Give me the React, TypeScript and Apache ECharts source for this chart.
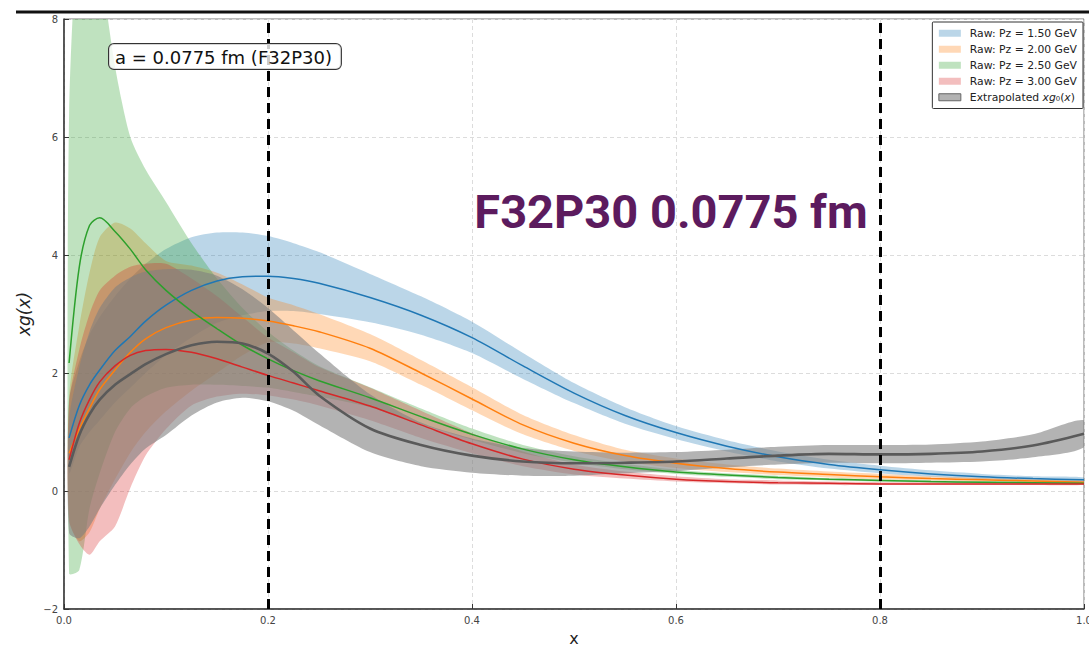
import React, { useEffect, useRef } from "react";
import * as echarts from "echarts";

// ---------- data ----------
const X = [0.005, 0.015, 0.025, 0.035, 0.05, 0.065, 0.08, 0.1, 0.125, 0.15, 0.175, 0.2, 0.225, 0.25, 0.3, 0.35, 0.4, 0.45, 0.5, 0.55, 0.6, 0.65, 0.7, 0.75, 0.8, 0.85, 0.9, 0.95, 1.0];

const BLUE_MID = [0.9, 1.45, 1.8, 2.05, 2.38, 2.62, 2.88, 3.15, 3.4, 3.56, 3.63, 3.64, 3.6, 3.52, 3.28, 2.98, 2.6, 2.12, 1.66, 1.28, 0.99, 0.76, 0.58, 0.45, 0.36, 0.29, 0.24, 0.21, 0.19];
const BLUE_HI = [1.55, 2.2, 2.65, 2.95, 3.3, 3.6, 3.85, 4.1, 4.3, 4.38, 4.38, 4.32, 4.2, 4.05, 3.68, 3.3, 2.87, 2.34, 1.83, 1.42, 1.1, 0.86, 0.67, 0.53, 0.43, 0.35, 0.29, 0.25, 0.23];
const BLUE_LO = [0.3, 0.75, 1.0, 1.2, 1.5, 1.75, 2.0, 2.3, 2.6, 2.85, 2.98, 3.05, 3.05, 3.0, 2.86, 2.65, 2.34, 1.9, 1.49, 1.14, 0.88, 0.67, 0.5, 0.38, 0.3, 0.24, 0.2, 0.17, 0.15];

const ORANGE_MID = [0.64, 1.05, 1.4, 1.72, 2.05, 2.35, 2.58, 2.77, 2.9, 2.94, 2.93, 2.88, 2.8, 2.7, 2.42, 2.0, 1.56, 1.12, 0.81, 0.6, 0.47, 0.38, 0.32, 0.28, 0.24, 0.21, 0.19, 0.17, 0.15];
const ORANGE_HI = [1.6, 2.8, 3.7, 4.3, 4.55, 4.45, 4.2, 3.9, 3.82, 3.7, 3.5, 3.28, 3.15, 3.0, 2.66, 2.22, 1.76, 1.29, 0.95, 0.7, 0.55, 0.45, 0.38, 0.33, 0.29, 0.25, 0.22, 0.2, 0.18];
const ORANGE_LO = [-0.5, -0.85, -0.7, -0.3, 0.2, 0.65, 1.0, 1.35, 1.7, 2.0, 2.3, 2.52, 2.5, 2.42, 2.2, 1.8, 1.37, 0.96, 0.68, 0.5, 0.39, 0.32, 0.27, 0.23, 0.2, 0.18, 0.16, 0.15, 0.13];

const GREEN_MID = [2.17, 3.8, 4.5, 4.63, 4.4, 4.1, 3.75, 3.4, 3.05, 2.75, 2.47, 2.24, 2.04, 1.87, 1.58, 1.26, 0.96, 0.71, 0.53, 0.41, 0.32, 0.27, 0.23, 0.2, 0.18, 0.16, 0.15, 0.14, 0.13];
const GREEN_HI = [6.4, 9.8, 10.2, 9.0, 7.2, 6.0, 5.45, 4.9, 4.2, 3.6, 3.1, 2.7, 2.38, 2.12, 1.76, 1.4, 1.06, 0.78, 0.59, 0.46, 0.36, 0.3, 0.26, 0.22, 0.2, 0.18, 0.17, 0.16, 0.15];
const GREEN_LO = [-1.4, -1.34, -0.3, 0.3, 1.0, 1.4, 1.6, 1.75, 1.8, 1.8, 1.78, 1.75, 1.68, 1.6, 1.42, 1.13, 0.87, 0.64, 0.48, 0.37, 0.29, 0.24, 0.2, 0.18, 0.16, 0.14, 0.13, 0.12, 0.11];

const RED_MID = [0.53, 1.15, 1.55, 1.85, 2.12, 2.3, 2.38, 2.4, 2.35, 2.24, 2.1, 1.96, 1.83, 1.7, 1.44, 1.12, 0.8, 0.54, 0.37, 0.27, 0.2, 0.16, 0.14, 0.13, 0.12, 0.12, 0.12, 0.12, 0.12];
const RED_HI = [1.5, 2.4, 3.0, 3.4, 3.65, 3.8, 3.85, 3.85, 3.6, 3.3, 2.95, 2.6, 2.35, 2.1, 1.75, 1.36, 0.98, 0.67, 0.45, 0.33, 0.25, 0.2, 0.18, 0.16, 0.15, 0.15, 0.15, 0.15, 0.14];
const RED_LO = [-0.5, -0.9, -1.08, -0.85, -0.6, 0.05, 0.6, 1.05, 1.45, 1.6, 1.65, 1.62, 1.55, 1.45, 1.2, 0.9, 0.64, 0.42, 0.28, 0.21, 0.16, 0.13, 0.11, 0.1, 0.1, 0.1, 0.1, 0.1, 0.1];

const GRAY_MID = [0.41, 0.95, 1.3, 1.55, 1.8, 1.98, 2.15, 2.32, 2.47, 2.53, 2.5, 2.33, 2.02, 1.62, 1.06, 0.78, 0.6, 0.5, 0.47, 0.48, 0.5, 0.55, 0.6, 0.63, 0.62, 0.63, 0.67, 0.77, 0.97];
const GRAY_HI = [1.2, 2.1, 2.7, 3.1, 3.45, 3.62, 3.72, 3.76, 3.75, 3.65, 3.42, 3.1, 2.72, 2.34, 1.64, 1.16, 0.89, 0.73, 0.67, 0.65, 0.66, 0.7, 0.75, 0.78, 0.78, 0.79, 0.84, 0.96, 1.2];
const GRAY_LO = [-0.71, -0.8, -0.6, -0.3, 0.1, 0.45, 0.72, 0.95, 1.28, 1.5, 1.58, 1.52, 1.36, 1.12, 0.66, 0.42, 0.31, 0.26, 0.26, 0.3, 0.34, 0.4, 0.45, 0.48, 0.47, 0.48, 0.5, 0.57, 0.74];

const SERIES_NAMES = ["Raw: Pz = 1.50 GeV", "Raw: Pz = 2.00 GeV", "Raw: Pz = 2.50 GeV", "Raw: Pz = 3.00 GeV", "Extrapolated xg0(x)"];
const VLINES = [0.2, 0.8];
const X_TICKS = { min: 0, max: 1, step: 0.2 };
const Y_TICKS = { min: -2, max: 8, step: 2 };
const BOX_LABEL = "a = 0.0775 fm (F32P30)";
const BIG_TITLE = "F32P30 0.0775 fm";

const LINE_COLORS = ["#1f77b4", "#ff7f0e", "#2ca02c", "#d62728", "#5a5a5a"];
const BAND_COLORS = [
  "rgba(31,119,180,0.3)",
  "rgba(255,127,14,0.3)",
  "rgba(44,160,44,0.3)",
  "rgba(214,39,40,0.3)",
  "rgba(128,128,128,0.6)",
];

const SMOOTH = 0.3;

function bandSeries(name: string, lo: number[], hi: number[], color: string) {
  return {
    type: "custom",
    name,
    clip: true,
    silent: true,
    z: 2,
    itemStyle: { color },
    data: X.map((x, i) => [x, lo[i], hi[i]]),
    encode: { x: 0, y: [1, 2] },
    renderItem: (params: any, api: any) => {
      if (params.dataIndex !== 0) return null;
      const upper: number[][] = [];
      const lower: number[][] = [];
      for (let i = 0; i < X.length; i++) {
        upper.push(api.coord([X[i], hi[i]]));
        lower.push(api.coord([X[i], lo[i]]));
      }
      return {
        type: "group",
        children: [
          {
            type: "polygon",
            shape: { points: upper.concat(lower.reverse()), smooth: 0.25 },
            style: { fill: color, stroke: "none" },
          },
        ],
      };
    },
  };
}

function lineSeries(id: string, mid: number[], color: string, width: number) {
  return {
    type: "line",
    name: id,
    data: X.map((x, i) => [x, mid[i]]),
    symbol: "none",
    smooth: SMOOTH,
    lineStyle: { color, width },
    color,
    silent: true,
    z: 3,
  };
}

const FONT = "DejaVu Sans";

export default function App() {
  const ref = useRef<HTMLDivElement>(null);
  useEffect(() => {
    if (!ref.current) return;
    const chart = echarts.init(ref.current, null, { renderer: "svg" });
    const mids = [BLUE_MID, ORANGE_MID, GREEN_MID, RED_MID, GRAY_MID];
    const his = [BLUE_HI, ORANGE_HI, GREEN_HI, RED_HI, GRAY_HI];
    const los = [BLUE_LO, ORANGE_LO, GREEN_LO, RED_LO, GRAY_LO];
    const series: any[] = [];
    for (let k = 0; k < 5; k++) series.push(bandSeries(SERIES_NAMES[k], los[k], his[k], BAND_COLORS[k]));
    for (let k = 0; k < 5; k++) series.push(lineSeries("line" + k, mids[k], LINE_COLORS[k], k === 4 ? 2.6 : 1.5));
    series.push({
      type: "line",
      name: "vlines",
      data: [],
      silent: true,
      z: 4,
      markLine: {
        silent: true,
        symbol: "none",
        label: { show: false },
        lineStyle: { color: "#000", width: 3, type: [10, 6] },
        data: VLINES.map((v) => ({ xAxis: v })),
      },
    });

    chart.setOption({
      animation: false,
      backgroundColor: "#fff",
      grid: {
        left: 64,
        right: 5,
        top: 19,
        bottom: 38,
        containLabel: false,
        outerBoundsMode: "none",
        show: true,
        borderColor: "#777",
        borderWidth: 1,
      },
      xAxis: {
        type: "value",
        min: X_TICKS.min,
        max: X_TICKS.max,
        interval: X_TICKS.step,
        name: "x",
        nameLocation: "middle",
        nameGap: 21,
        nameTextStyle: { fontFamily: FONT, fontSize: 16, color: "#222" },
        axisLine: { show: true, onZero: false, lineStyle: { color: "#333", width: 1.5 } },
        axisTick: { show: true, inside: true, length: 5, lineStyle: { color: "#333" } },
        axisLabel: { fontFamily: FONT, fontSize: 10, color: "#444", margin: 6, formatter: (v: number) => v.toFixed(1) },
        splitLine: { show: true, lineStyle: { color: "#dcdcdc", type: [4, 3], width: 1 } },
      },
      yAxis: {
        type: "value",
        min: Y_TICKS.min,
        max: Y_TICKS.max,
        interval: Y_TICKS.step,
        name: "xg(x)",
        nameLocation: "middle",
        nameGap: 25,
        nameRotate: 90,
        nameTextStyle: { fontFamily: FONT, fontSize: 17, fontStyle: "italic", color: "#222" },
        axisLine: { show: true, onZero: false, lineStyle: { color: "#333", width: 1.5 } },
        axisTick: { show: true, inside: true, length: 5, lineStyle: { color: "#333" } },
        axisLabel: {
          fontFamily: FONT,
          fontSize: 10,
          color: "#444",
          margin: 6,
          formatter: (v: number) => (v < 0 ? "\u2212" + Math.abs(v) : String(v)),
        },
        splitLine: { show: true, lineStyle: { color: "#dcdcdc", type: [4, 3], width: 1 } },
      },
      legend: {
        orient: "vertical",
        right: 6,
        top: 22,
        icon: "rect",
        itemWidth: 22,
        itemHeight: 7,
        itemGap: 3.5,
        padding: [5, 6, 5, 6],
        backgroundColor: "#fff",
        borderColor: "#333",
        borderWidth: 1,
        borderRadius: 1,
        selectedMode: false,
        data: SERIES_NAMES.map((n, k) => ({
          name: n,
          itemStyle: { color: BAND_COLORS[k], borderColor: k === 4 ? "#666" : BAND_COLORS[k], borderWidth: k === 4 ? 1 : 0 },
        })),
        formatter: (name: string) =>
          name === SERIES_NAMES[4] ? "{n|Extrapolated }{i|xg}{n|\u2080(}{i|x}{n|)}" : "{n|" + name + "}",
        textStyle: {
          fontFamily: FONT,
          fontSize: 10.8,
          color: "#222",
          lineHeight: 12.5,
          padding: [0, 0, 0, 4],
          rich: {
            n: { fontFamily: FONT, fontSize: 10.8, color: "#222", lineHeight: 12.5 },
            i: { fontFamily: FONT, fontSize: 10.8, color: "#222", fontStyle: "italic", lineHeight: 12.5 },
          },
        },
      },
      graphic: [
        {
          type: "line",
          shape: { x1: 16, y1: 12, x2: 1089, y2: 12 },
          style: { stroke: "#111", lineWidth: 3 },
          z: 100,
        },
        {
          type: "text",
          x: 671,
          y: 211,
          z: 100,
          style: {
            text: BIG_TITLE,
            fill: "#5c1b5e",
            fontFamily: "Roboto",
            fontWeight: "bold",
            fontSize: 47,
            align: "center",
            verticalAlign: "middle",
            textAlign: "center",
            textVerticalAlign: "middle",
          },
        },
        {
          type: "text",
          x: 109,
          y: 44,
          z: 100,
          style: {
            text: BOX_LABEL,
            fill: "#111",
            fontFamily: FONT,
            fontSize: 18,
            backgroundColor: "rgba(255,255,255,0.8)",
            borderColor: "#333",
            borderWidth: 1,
            borderRadius: 5,
            padding: [4, 9, 3, 6],
          },
        },
      ],
      series,
    });
    return () => chart.dispose();
  }, []);
  return (
    <div
      ref={ref}
      style={{ position: "fixed", left: 0, top: 0, width: 1089, height: 647, background: "#fff" }}
    />
  );
}
